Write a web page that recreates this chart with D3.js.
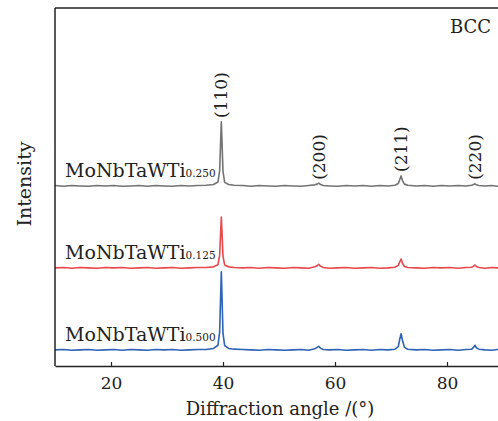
<!DOCTYPE html>
<html>
<head>
<meta charset="utf-8">
<script src="https://cdn.jsdelivr.net/npm/d3@7"></script>
<style>
  body { margin: 0; background: #fff; }
  text { font-family: "DejaVu Serif", serif; fill: #222; }
</style>
</head>
<body>
<svg id="chart" width="498" height="421"></svg>
<script>
(function(){
'use strict';

    // 2-theta grid (deg), denser around the reflections
    var angles = [10, 11.5, 13, 14.5, 16, 17.5, 19, 20.5, 22, 23.5, 25, 26.5, 28, 29.5, 31, 32.5, 34, 35.5, 37, 38.3, 39.1, 39.4, 39.7, 40.0, 40.3, 41.0, 42,
                  43.5, 45, 46.5, 48, 49.5, 51, 52.5, 54, 55.3, 56.4, 56.8, 57.1, 57.4, 57.9, 59, 60.5, 62, 63.5, 65, 66.5, 68, 69.5, 70.7, 71.3, 71.55, 71.8,
                  72.05, 72.4, 73.0, 74.5, 76, 77.5, 79, 80.5, 82, 83.4, 84.4, 84.75, 85.0, 85.25, 85.7, 86.8, 88, 89, 90];

    // intensities (a.u.), baseline ~0
    var ti0250 = [1, -1, 1, 0, -1, 1, 0, 1, -1, 0, 1, -1, 1, 0, -1, 1, 0, 1, 2, 4, 11, 42, 179, 40, 10, 4, 2,
                  1, -1, 1, 0, -1, 1, 0, -1, 1, 3, 5, 8, 4, 1, 0, -1, 1, 0, 1, -1, 1, 0, 2, 7, 17, 28,
                  15, 5, 2, 0, 1, -1, 1, 0, 1, 0, 2, 4, 6, 3, 1, 0, 1, -1, 1];
    var ti0125 = [0, 1, -1, 1, 0, -1, 1, 0, 1, -1, 0, 1, -1, 0, 1, -1, 0, 1, 1, 3, 9, 35, 142, 33, 8, 3, 1,
                  0, 1, -1, 1, 0, -1, 1, 0, -1, 3, 6, 10, 5, 1, -1, 0, 1, -1, 0, 1, -1, 0, 2, 7, 16, 25,
                  13, 4, 1, 0, -1, 1, 0, 1, -1, 1, 2, 5, 8, 4, 1, -1, 1, 0, 1];
    var ti0500 = [0, 1, -1, 0, 1, -1, 0, 1, -1, 1, 0, -1, 1, 0, 1, -1, 0, 1, 1, 4, 13, 50, 218, 46, 12, 4, 2,
                  1, 0, -1, 1, 0, -1, 0, 1, -1, 3, 7, 10, 5, 1, 0, 1, -1, 0, 1, -1, 1, 0, 2, 9, 29, 45,
                  27, 7, 2, 0, 1, -1, 0, 1, -1, 1, 2, 7, 13, 6, 2, 0, -1, 1, 0];

    var seriesNames = ['MoNbTaWTi', 'MoNbTaWTi', 'MoNbTaWTi'];
    var seriesSubs = ['0.250', '0.125', '0.500'];
    var seriesData = [ti0250, ti0125, ti0500];
    var seriesOffsets = [503, 274, 45];
    var seriesColors = ['#737373', '#e8474b', '#2d62b5'];

    var peakLabels = ['(110)', '(200)', '(211)', '(220)'];
    var peakAngles = [39.7, 57.1, 71.8, 85.0];
    var peakLabelY = [693, 520, 542, 520];

    var xTicks = [20, 40, 60, 80];

    var margin = {left: 55, top: 8, right: -5, bottom: 55},
        width = 498, height = 421;

    var svg = d3.select('#chart');

    var x = d3.scaleLinear().domain([10, 90]).range([margin.left, width - margin.right]);
    var y = d3.scaleLinear().domain([0, 1000]).range([height - margin.bottom, margin.top]);

    var line = d3.line()
        .x(function(d) { return x(d[0]); })
        .y(function(d) { return y(d[1]); });

    seriesData.forEach(function(vals, s) {
        var pts = angles.map(function(a, i) { return [a, vals[i] + seriesOffsets[s]]; });
        svg.append('path')
            .datum(pts)
            .attr('fill', 'none')
            .attr('stroke', seriesColors[s])
            .attr('stroke-width', 1.6)
            .attr('stroke-linejoin', 'round')
            .attr('d', line);

        var t = svg.append('text')
            .attr('x', 65)
            .attr('y', y(seriesOffsets[s]) - 9)
            .attr('font-size', 19);
        t.append('tspan').text(seriesNames[s]);
        t.append('tspan').attr('font-size', 10.5).text(seriesSubs[s]);
    });

    // frame: top and left, bottom axis
    svg.append('line')
        .attr('x1', x(10)).attr('x2', width)
        .attr('y1', y(1000)).attr('y2', y(1000))
        .attr('stroke', '#222').attr('stroke-width', 1.5);
    svg.append('line')
        .attr('x1', x(10)).attr('x2', x(10))
        .attr('y1', y(1000)).attr('y2', y(0))
        .attr('stroke', '#222').attr('stroke-width', 1.5);

    var xAxis = d3.axisBottom(x)
        .tickValues(xTicks)
        .tickSizeInner(-4)
        .tickSizeOuter(0)
        .tickPadding(11)
        .tickFormat(d3.format('d'));

    var gx = svg.append('g')
        .attr('transform', 'translate(0,' + y(0) + ')')
        .call(xAxis);
    gx.select('.domain').attr('stroke', '#222').attr('stroke-width', 1.5);
    gx.selectAll('.tick line').attr('stroke', '#222').attr('stroke-width', 1.2);
    gx.selectAll('.tick text')
        .attr('font-family', '"DejaVu Serif", serif')
        .attr('font-size', 17)
        .attr('fill', '#222');

    // reflection labels
    peakLabels.forEach(function(lbl, i) {
        svg.append('text')
            .attr('transform', 'translate(' + (x(peakAngles[i]) + 6) + ',' + y(peakLabelY[i]) + ') rotate(-90)')
            .attr('font-size', 17)
            .text(lbl);
    });

    svg.append('text')
        .attr('x', 491).attr('y', 33)
        .attr('text-anchor', 'end')
        .attr('font-size', 18)
        .text('BCC');

    svg.append('text')
        .attr('x', 280).attr('y', 415)
        .attr('text-anchor', 'middle')
        .attr('font-size', 18)
        .text('Diffraction angle /(\u00b0)');

    svg.append('text')
        .attr('transform', 'translate(31,184) rotate(-90)')
        .attr('text-anchor', 'middle')
        .attr('font-size', 19)
        .text('Intensity');

})();
</script>
</body>
</html>
